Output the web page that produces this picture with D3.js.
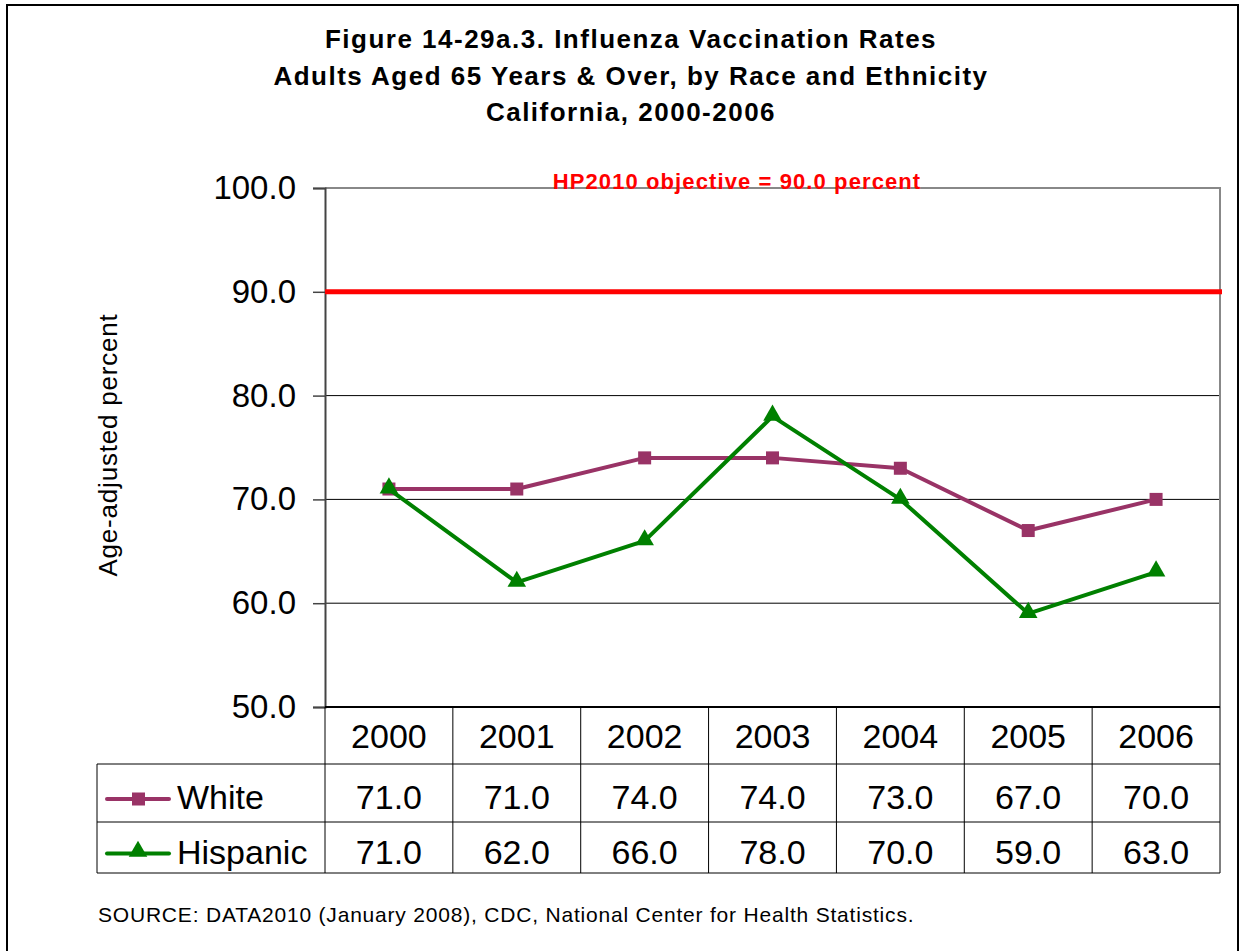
<!DOCTYPE html>
<html>
<head>
<meta charset="utf-8">
<script src="https://cdn.jsdelivr.net/npm/d3@7"></script>
<style>
  html, body { margin: 0; padding: 0; background: #fff; }
  svg { display: block; font-family: Arial, "Liberation Sans", sans-serif; }
</style>
</head>
<body>
<svg id="chart" width="1241" height="951"></svg>
<script>
const titleLines = [
  "Figure 14-29a.3. Influenza Vaccination Rates",
  "Adults Aged 65 Years & Over, by Race and Ethnicity",
  "California, 2000-2006"
];
const years = ["2000", "2001", "2002", "2003", "2004", "2005", "2006"];
const whiteValues = [71.0, 71.0, 74.0, 74.0, 73.0, 67.0, 70.0];
const hispanicValues = [71.0, 62.0, 66.0, 78.0, 70.0, 59.0, 63.0];
const seriesNames = ["White", "Hispanic"];
const seriesColors = ["#993366", "#008000"];
const yTicks = [50, 60, 70, 80, 90, 100];
const objectiveValue = 90.0;
const objectiveLabel = "HP2010 objective = 90.0 percent";
const yAxisTitle = "Age-adjusted percent";
const sourceText = "SOURCE: DATA2010 (January 2008), CDC, National Center for Health Statistics.";

const series = [
  { name: seriesNames[0], values: whiteValues, color: seriesColors[0], marker: "square" },
  { name: seriesNames[1], values: hispanicValues, color: seriesColors[1], marker: "triangle" }
];

const svg = d3.select("#chart");
const plot = { left: 325, right: 1220, top: 188, bottom: 707 };
const tableLeft = 97;
const rowBounds = [707, 764, 822, 873];

const x = d3.scaleBand().domain(years).range([plot.left, plot.right]).padding(0);
const y = d3.scaleLinear().domain([50, 100]).range([plot.bottom, plot.top]);

// outer border
svg.append("rect").attr("x", 7).attr("y", 5).attr("width", 1231).attr("height", 960)
  .attr("fill", "none").attr("stroke", "#000").attr("stroke-width", 2);

// title
svg.append("g").selectAll("text").data(titleLines).join("text")
  .attr("x", 631).attr("y", (d, i) => 48 + i * 36.5)
  .attr("text-anchor", "middle").attr("font-size", 26).attr("font-weight", "bold")
  .attr("letter-spacing", 1.5)
  .text(d => d);

// gridlines
svg.append("g").selectAll("line").data(yTicks.filter(t => t > 50 && t < 100)).join("line")
  .attr("x1", plot.left).attr("x2", plot.right)
  .attr("y1", d => y(d)).attr("y2", d => y(d))
  .attr("stroke", "#000").attr("stroke-width", 1);

// plot border top & right (gray)
svg.append("path")
  .attr("d", `M${plot.left},${y(100)}H${plot.right}V${plot.bottom}`)
  .attr("fill", "none").attr("stroke", "#888").attr("stroke-width", 2);

// y axis
const yAxis = d3.axisLeft(y).tickValues(yTicks).tickFormat(d3.format(".1f")).tickSize(12).tickPadding(17);
const gy = svg.append("g").attr("transform", `translate(${plot.left},0)`).call(yAxis);
gy.select(".domain").attr("stroke", "#444").attr("stroke-width", 2);
gy.selectAll(".tick line").attr("stroke", "#444").attr("stroke-width", 1.5);
gy.selectAll(".tick text").attr("font-size", 33).attr("font-family", "Arial, 'Liberation Sans', sans-serif").attr("fill", "#000");

// y axis title
svg.append("text")
  .attr("transform", `translate(117,445) rotate(-90)`)
  .attr("text-anchor", "middle").attr("font-size", 26).attr("letter-spacing", 0.8)
  .text(yAxisTitle);

// objective line
svg.append("line")
  .attr("x1", plot.left).attr("x2", plot.right + 2)
  .attr("y1", y(objectiveValue)).attr("y2", y(objectiveValue))
  .attr("stroke", "#ff0000").attr("stroke-width", 5);
svg.append("text")
  .attr("x", 737).attr("y", 189).attr("text-anchor", "middle")
  .attr("font-size", 22).attr("font-weight", "bold").attr("fill", "#ff0000")
  .attr("letter-spacing", 1.1)
  .text(objectiveLabel);

// lines & markers
const cx = d => x(d) + x.bandwidth() / 2;
const lineGen = d3.line().x(d => cx(d.year)).y(d => y(d.value));
const triangle = d3.symbol().type(d3.symbolTriangle).size(150);

series.forEach(s => {
  const pts = years.map((yr, i) => ({ year: yr, value: s.values[i] }));
  svg.append("path").datum(pts).attr("d", lineGen)
    .attr("fill", "none").attr("stroke", s.color).attr("stroke-width", 4).attr("stroke-linejoin", "round");
  const g = svg.append("g");
  if (s.marker === "square") {
    g.selectAll("rect").data(pts).join("rect")
      .attr("x", d => cx(d.year) - 6.5).attr("y", d => y(d.value) - 6.5)
      .attr("width", 13).attr("height", 13).attr("fill", s.color);
  } else {
    g.selectAll("path").data(pts).join("path")
      .attr("d", triangle)
      .attr("transform", d => `translate(${cx(d.year)},${y(d.value) - 1})`)
      .attr("fill", s.color);
  }
});

// data table
const tbl = svg.append("g").attr("stroke", "#000").attr("stroke-width", 1);
tbl.selectAll("line.col").data(years).join("line").attr("class", "col")
  .attr("x1", d => x(d)).attr("x2", d => x(d))
  .attr("y1", rowBounds[0]).attr("y2", rowBounds[3]);
tbl.append("line").attr("x1", plot.right).attr("x2", plot.right).attr("y1", rowBounds[0]).attr("y2", rowBounds[3]);
tbl.append("line").attr("x1", tableLeft).attr("x2", tableLeft).attr("y1", rowBounds[1]).attr("y2", rowBounds[3]);
tbl.append("line").attr("x1", plot.left).attr("x2", plot.right).attr("y1", rowBounds[0]).attr("y2", rowBounds[0]).attr("stroke-width", 2);
[rowBounds[1], rowBounds[2], rowBounds[3]].forEach(rb => {
  tbl.append("line").attr("x1", tableLeft).attr("x2", plot.right).attr("y1", rb).attr("y2", rb);
});

// year headers
svg.append("g").selectAll("text").data(years).join("text")
  .attr("x", d => cx(d)).attr("y", 748)
  .attr("text-anchor", "middle").attr("font-size", 34)
  .text(d => d);

// values + legend keys
series.forEach((s, si) => {
  const rowMid = (rowBounds[si + 1] + rowBounds[si + 2]) / 2;
  svg.append("g").selectAll("text").data(years).join("text")
    .attr("x", d => cx(d)).attr("y", rowMid + 16)
    .attr("text-anchor", "middle").attr("font-size", 34)
    .text((d, i) => s.values[i].toFixed(1));
  const ly = rowMid + 6;
  svg.append("line").attr("x1", 107).attr("x2", 169).attr("y1", ly).attr("y2", ly)
    .attr("stroke", s.color).attr("stroke-width", 4).attr("stroke-linecap", "round");
  if (s.marker === "square") {
    svg.append("rect").attr("x", 132).attr("y", ly - 6.5).attr("width", 13).attr("height", 13).attr("fill", s.color);
  } else {
    svg.append("path").attr("d", triangle).attr("transform", `translate(138,${ly - 2})`).attr("fill", s.color);
  }
  svg.append("text").attr("x", 177).attr("y", rowMid + 16).attr("font-size", 34).text(s.name);
});

// source
svg.append("text").attr("x", 98).attr("y", 922).attr("font-size", 21).attr("letter-spacing", 0.8).text(sourceText);
</script>
</body>
</html>
